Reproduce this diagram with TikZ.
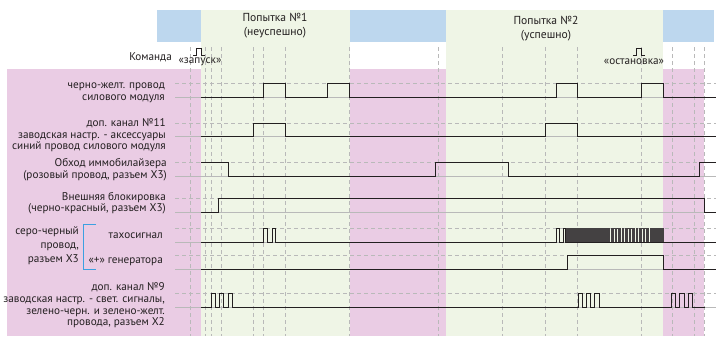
\documentclass[tikz,border=0pt]{standalone}
\usepackage{fontspec}
\setmainfont{PT Sans}
\usetikzlibrary{positioning}
\definecolor{bandblue}{RGB}{189,215,238}
\definecolor{trygreen}{RGB}{239,245,230}
\definecolor{idlepink}{RGB}{234,204,228}
\definecolor{bracecol}{RGB}{60,160,225}
\definecolor{ink}{RGB}{35,31,32}
\definecolor{guide}{RGB}{185,185,185}

\begin{document}
\begin{tikzpicture}[x=1pt,y=-1pt,font=\fontsize{11.2}{11.6}\selectfont,
    lbl/.style={anchor=east,align=right,inner sep=0pt,text=ink},
    ttl/.style={align=center,inner sep=0pt,text=ink,font=\fontsize{11.6}{14}\selectfont},
    sig/.style={ink,line width=0.95pt},
    pls/.style={ink!85,line width=0.35pt},
    cmdsig/.style={ink,line width=0.8pt},
    hiline/.style={guide,dash pattern=on 4pt off 3pt,line width=0.6pt},
    loline/.style={guide,line width=0.8pt},
    vmark/.style={guide,dash pattern=on 4pt off 3pt,line width=0.6pt}]
  \useasboundingbox (0,0) rectangle (716,338);
  % background bands
  \fill[idlepink] (7,69) rectangle (201,336);
  \fill[idlepink] (350,69) rectangle (446,336);
  \fill[idlepink] (663,69) rectangle (704,336);
  \fill[bandblue] (157,10) rectangle (201,42);
  \fill[bandblue] (350,10) rectangle (446,42);
  \fill[bandblue] (663,10) rectangle (714,42);
  \fill[trygreen] (201,10) rectangle (350,336);
  \fill[trygreen] (446,10) rectangle (663,336);
  % time marks
  \foreach \x in {190,205,211,221,253,263,285,349,438,502,545,577,641,672,694,704}
    \draw[vmark] (\x,47) -- (\x,336);
  % rows: low and high levels
  \foreach \yl/\yh in {97/83,136/123,176/162,212/198,242/228,269/255,307/293}{
    \draw[loline] (175,\yl) -- (716,\yl);
    \draw[hiline] (175,\yh) -- (716,\yh);
  }
  % titles
  \node[ttl] (try1) at (275,26) {Попытка №1\\(неуспешно)};
  \node[ttl] (try2) at (546,29) {Попытка №2\\(успешно)};
  % labels
  \node[lbl] (cmd) at (172,57) {Команда};
  \node[lbl] (l1) at (165,92.5) {черно-желт. провод\\силового модуля};
  \node[lbl] (l2) at (166,135.5) {доп. канал №11\\заводская настр. - аксессуары\\синий провод силового модуля};
  \node[lbl] (l3) at (167,169.5) {Обход иммобилайзера\\(розовый провод, разъем Х3)};
  \node[lbl] (l4) at (166,203) {Внешняя блокировка\\(черно-красный, разъем Х3)};
  \node[lbl,font=\fontsize{11.2}{14}\selectfont] (l5a) at (79,246) {серо-черный\\провод,\\разъем Х3};
  \node[lbl] (l5) at (163,236) {тахосигнал};
  \node[lbl] (l6) at (163,262) {«+» генератора};
  \node[lbl] (l7) at (165,305.5) {доп. канал №9\\заводская настр. - свет. сигналы,\\зелено-черн. и зелено-желт.\\провода, разъем Х2};
  \draw[bracecol,line width=0.9pt] (96,224) -| (83.5,269) -- (96,269);
  % commands
  \draw[cmdsig] (193,55) -| (196,48) -| (201,55) -- (205,55);
  \node[text=ink,inner sep=0pt] (start) at (200,62) {«запуск»};
  \draw[cmdsig] (633,55) -| (636,48) -| (641,55) -- (645,55);
  \node[text=ink,inner sep=0pt] (stop) at (634,62) {«остановка»};
  % signals
  \draw[sig] (201,97) -| (263,83) -| (285,97) -| (327,83) -| (349,97) -| (556,83) -| (577,97) -| (641,83) -| (663,97) -- (716,97);
  \draw[sig] (201,136) -| (253,123) -| (285,136) -| (545,123) -| (577,136) -- (716,136);
  \draw[sig] (201,162) -| (228,176) -| (435,162) -| (508,176) -| (699,162) -- (716,162);
  \draw[sig] (201,212) -| (218,198) -| (704,212) -- (716,212);
  \draw[sig] (201,242) -| (263,228) -| (267,242) -| (272,228) -| (275,242) -| (556,228) -| (559,242) -| (563,228) -| (565,242) -- (716,242);
  \foreach \x in {566,568,...,606}
    \draw[pls] (\x,242) -- ++(0,-14) -- ++(1,0) -- ++(0,14);
  \foreach \x in {608,610.8,...,648}
    \draw[pls] (\x,242) -- ++(0,-14) -- ++(1.4,0) -- ++(0,14);
  \foreach \x in {650,652,...,662}
    \draw[pls] (\x,242) -- ++(0,-14) -- ++(1,0) -- ++(0,14);
  \draw[sig] (201,269) -| (567,255) -| (663,269) -- (716,269);
  \draw[sig] (201,307) -| (211,293) -| (215,307) -| (219,293) -| (223,307) -| (228,293) -| (232,307)
    -| (578,293) -| (582,307) -| (586,293) -| (590.5,307) -| (594.5,293) -| (599,307)
    -| (671,293) -| (675.5,307) -| (679.5,293) -| (684,307) -| (688,293) -| (692.5,307) -- (705,307);
\end{tikzpicture}
\end{document}
